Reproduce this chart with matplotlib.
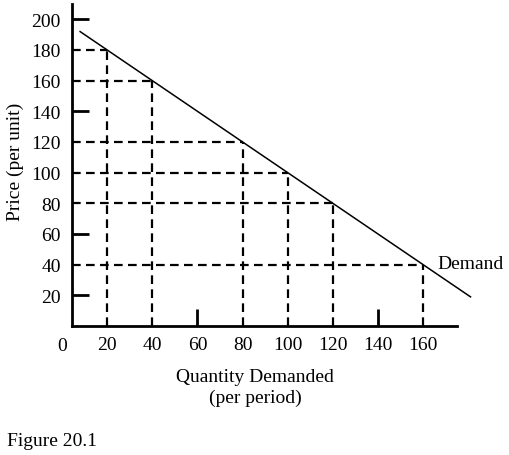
import matplotlib
matplotlib.use("Agg")
import matplotlib.pyplot as plt
from matplotlib.transforms import blended_transform_factory

# points marked on the demand schedule
quantity = [20, 40, 80, 100, 120, 160]
price = [180, 160, 120, 100, 80, 40]

# ends of the demand line as drawn
line_q = [8, 181]
line_p = [192, 19]

x_labels = [20, 40, 60, 80, 100, 120, 140, 160]
y_labels = [20, 40, 60, 80, 100, 120, 140, 160, 180, 200]
x_marks = [60, 140]          # short tick marks not covered by dashed lines
y_marks = [20, 60, 140, 200]

plt.rcParams['font.family'] = ['Liberation Serif', 'DejaVu Serif']

W, H = 510, 456
fig = plt.figure(figsize=(W / 100, H / 100), dpi=100)
left, right, bottom, top = 72, 457, 327, 5
ax = fig.add_axes([left / W, 1 - bottom / H, (right - left) / W, (bottom - top) / H])

x0 = 4.4
ax.set_xlim(x0, 175)
ax.set_ylim(0, 210)

for s in ['top', 'right']:
    ax.spines[s].set_visible(False)
for s in ['left', 'bottom']:
    ax.spines[s].set_linewidth(2)

dash = (0, (3.9, 2.4))
ax.hlines(price, x0, quantity, colors='black', lw=1.6, linestyles=dash)
ax.vlines(quantity, 0, price, colors='black', lw=1.6, linestyles=dash)

ax.plot(line_q, line_p, color='black', lw=1.1, clip_on=False)

# keep minor marks even where they sit on a labelled position
ax.xaxis.remove_overlapping_locs = False
ax.yaxis.remove_overlapping_locs = False
ax.set_xticks(x_labels)
ax.set_yticks(y_labels)
ax.set_xticks(x_marks, minor=True)
ax.set_yticks(y_marks, minor=True)
ax.tick_params(which='major', length=0, labelsize=14)
ax.tick_params(axis='x', which='major', pad=7)
ax.tick_params(axis='y', which='major', pad=8)
ax.tick_params(which='minor', direction='in', length=12, width=2)

tr = blended_transform_factory(ax.transData, ax.transAxes)
ax.text(0, -0.035, "0", transform=tr, ha='center', va='top', fontsize=14)

fig.text(15 / W, 1 - 162 / H, "Price (per unit)", rotation=90,
         ha='center', va='center', fontsize=14)
fig.text(255 / W, 1 - 388 / H, "Quantity Demanded\n(per period)",
         ha='center', va='center', fontsize=14, linespacing=1.25)
ax.text(166.5, 41, "Demand", ha='left', va='center', fontsize=14)
fig.text(7 / W, 1 - 442 / H, "Figure 20.1", ha='left', va='center', fontsize=14)

fig.savefig("out.png", dpi=100)
